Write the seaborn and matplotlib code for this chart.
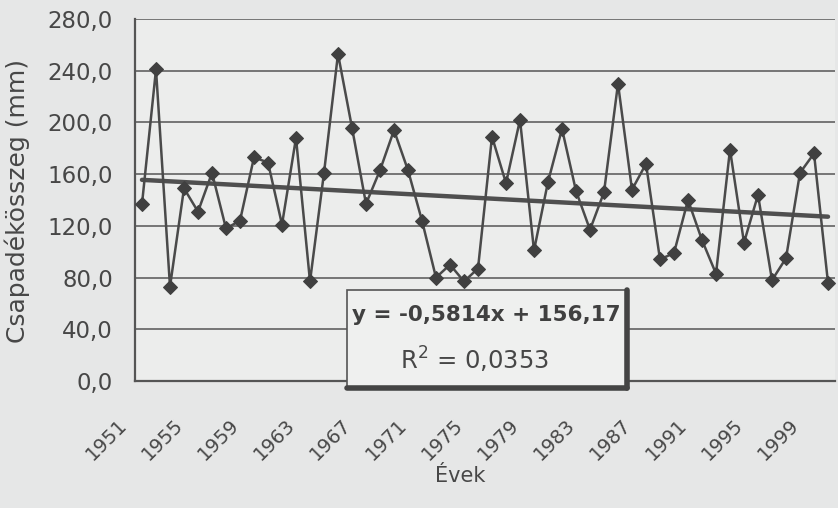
import matplotlib
matplotlib.use("Agg")
import matplotlib.pyplot as plt
import matplotlib.transforms as mtransforms
from matplotlib.patches import Rectangle
import seaborn as sns
import numpy as np
import pandas as pd

years = list(range(1951, 2001))
precip = [137, 241, 73, 149, 131, 161, 118, 124, 173, 169,
          121, 188, 77, 161, 253, 196, 137, 163, 194, 163,
          124, 80, 90, 77, 87, 189, 153, 202, 101, 154,
          195, 147, 117, 146, 230, 148, 168, 94, 99, 140,
          109, 83, 179, 107, 144, 78, 95, 161, 176, 76]
trend_slope = -0.5814
trend_intercept = 156.17
y_ticks = [0, 40, 80, 120, 160, 200, 240, 280]
x_label_years = list(range(1951, 2001, 4))

sns.set_theme(style="white")
plt.rcParams['font.family'] = ['DejaVu Sans']

df = pd.DataFrame({"idx": np.arange(len(years)), "year": years, "p": precip})
df["trend"] = trend_slope * (df["idx"] + 1) + trend_intercept

TXT = "#474747"
fig = plt.figure(figsize=(8.38, 5.08), dpi=100)
fig.patch.set_facecolor("#e6e7e7")
ax = fig.add_axes([135/838, 1 - 381/508, 700/838, 362/508])
ax.set_facecolor("#ecedec")

for yt in y_ticks:
    ax.axhline(yt, color="#555555", lw=1.1, zorder=1)

sns.lineplot(data=df, x="idx", y="p", ax=ax, color="#4a4a4a", lw=1.8,
             marker="D", markersize=7.5, markeredgecolor="#404040",
             markerfacecolor="#404040", zorder=3)
sns.lineplot(data=df, x="idx", y="trend", ax=ax, color="#4f4f4f", lw=3.2, zorder=2)

ax.set_xlim(-0.5, len(years) - 0.5)
ax.set_ylim(0, 280)
ax.set_yticks(y_ticks)
ax.set_yticklabels([f"{v:.1f}".replace(".", ",") for v in y_ticks], fontsize=16.5, color=TXT)

# category ticks
xt = [years.index(y) for y in x_label_years]
ax.set_xticks(xt)
ax.set_xticklabels([])
ax.set_xticks(np.arange(-0.5, len(years), 1), minor=True)
ax.tick_params(axis="x", which="major", length=0)
ax.tick_params(axis="x", which="minor", length=5, width=1, color="#555555", direction="out")
ax.tick_params(axis="y", which="major", length=5, width=1, color="#555555", direction="out", pad=11)

# rotated year labels, offset like the original
blend = mtransforms.blended_transform_factory(ax.transData, ax.transAxes)
off = mtransforms.ScaledTranslation(-14 / 100, -45 / 100, fig.dpi_scale_trans)
for yr, i in zip(x_label_years, xt):
    ax.text(i, 0, str(yr), transform=blend + off, rotation=45, rotation_mode="anchor",
            ha="right", va="baseline", fontsize=14, color=TXT, clip_on=False)

for s in ["left", "bottom"]:
    ax.spines[s].set_color("#555555")
    ax.spines[s].set_linewidth(1.6)
ax.spines["top"].set_visible(False)
ax.spines["right"].set_visible(False)

ax.set_xlabel("Évek", fontsize=15, color=TXT)
ax.xaxis.set_label_coords((460 - 135) / 700, (381 - 466) / 362)
ax.set_ylabel("Csapadékösszeg (mm)", fontsize=18, color=TXT)
ax.yaxis.set_label_coords((30 - 135) / 700, (381 - 201) / 362)

# equation box
bx0, bx1 = (347 - 135) / 700, (627 - 135) / 700
by0, by1 = (381 - 388) / 362, (381 - 290) / 362
ax.add_patch(Rectangle((bx0, by0), bx1 - bx0, by1 - by0, transform=ax.transAxes,
                       facecolor="#eff0ef", edgecolor="#555555", lw=1.2, zorder=5, clip_on=False))
ax.plot([bx1, bx1], [by0, by1], transform=ax.transAxes, color="#444444", lw=4, zorder=6, clip_on=False)
ax.plot([bx0, bx1], [by0, by0], transform=ax.transAxes, color="#444444", lw=4, zorder=6, clip_on=False)
ax.text((486 - 135) / 700, (381 - 315) / 362, "y = -0,5814x + 156,17", transform=ax.transAxes,
        ha="center", va="center", fontsize=15.5, fontweight="bold", color="#404040", zorder=7)
ax.text((475 - 135) / 700, (381 - 360) / 362, "R$^2$ = 0,0353", transform=ax.transAxes,
        ha="center", va="center", fontsize=17.5, color=TXT, zorder=7)

if ax.get_legend():
    ax.get_legend().remove()
fig.savefig("out.png", dpi=100, facecolor=fig.get_facecolor())
